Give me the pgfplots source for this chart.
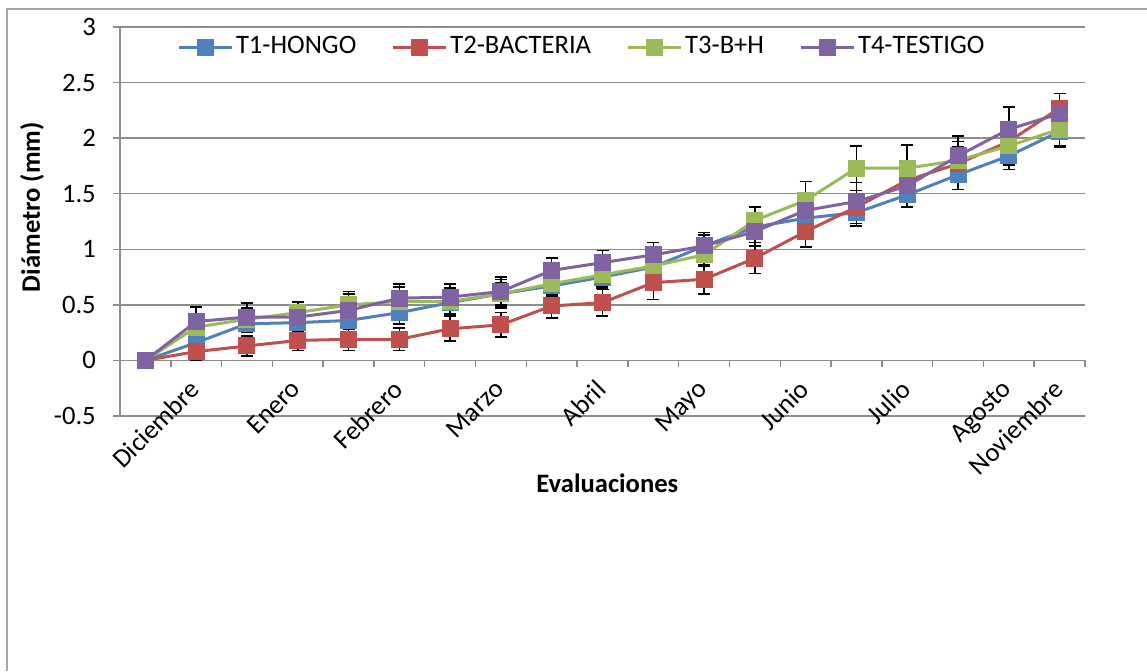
\documentclass[border=0pt]{standalone}
\usepackage{pgfplots}
\pgfplotsset{compat=1.18}
\usepackage{pgfplotstable}
\usepackage{fontspec}
\setmainfont{Carlito}
\definecolor{c1}{HTML}{4F81BD}
\definecolor{c2}{HTML}{C0504D}
\definecolor{c3}{HTML}{9BBB59}
\definecolor{c4}{HTML}{8064A2}
\definecolor{gridc}{HTML}{8C8C8C}
\definecolor{borderc}{HTML}{A6A6A6}

\pgfplotstableread{
x y e
1 0 0
2 0.16 0.05
3 0.33 0.08
4 0.34 0.08
5 0.36 0.08
6 0.43 0.10
7 0.52 0.10
8 0.60 0.10
9 0.67 0.10
10 0.75 0.10
11 0.84 0.10
12 1.03 0.10
13 1.20 0.10
14 1.28 0.10
15 1.33 0.12
16 1.49 0.11
17 1.67 0.13
18 1.84 0.12
19 2.06 0.14
}\tA
\pgfplotstableread{
x y e
1 0 0
2 0.08 0.08
3 0.13 0.09
4 0.18 0.09
5 0.19 0.10
6 0.19 0.10
7 0.285 0.11
8 0.32 0.11
9 0.49 0.11
10 0.52 0.12
11 0.70 0.15
12 0.73 0.13
13 0.92 0.14
14 1.16 0.14
15 1.38 0.15
16 1.62 0.12
17 1.77 0.15
18 1.97 0.15
19 2.27 0.13
}\tB
\pgfplotstableread{
x y e
1 0 0
2 0.30 0.08
3 0.37 0.10
4 0.43 0.10
5 0.50 0.12
6 0.53 0.13
7 0.53 0.12
8 0.60 0.13
9 0.69 0.10
10 0.77 0.10
11 0.85 0.10
12 0.95 0.10
13 1.26 0.12
14 1.44 0.17
15 1.73 0.20
16 1.73 0.21
17 1.80 0.17
18 1.93 0.17
19 2.08 0.15
}\tC
\pgfplotstableread{
x y e
1 0 0
2 0.35 0.13
3 0.39 0.125
4 0.39 0.13
5 0.45 0.15
6 0.56 0.13
7 0.57 0.12
8 0.62 0.13
9 0.81 0.11
10 0.88 0.11
11 0.95 0.11
12 1.03 0.12
13 1.16 0.13
14 1.35 0.15
15 1.43 0.17
16 1.57 0.15
17 1.84 0.18
18 2.08 0.20
19 2.22 0.12
}\tD

\pgfplotsset{
  ser/.style={#1, line width=1.5pt, mark=square*, mark size=4pt,
    mark options={solid, fill=#1, draw=#1, line width=0.5pt},
    error bars/.cd, y dir=both, y explicit,
    error bar style={black, line width=0.75pt},
    error mark options={black, rotate=90, mark size=3pt, line width=0.75pt}},
}

\begin{document}
\fontsize{13.3}{16}\selectfont
\begin{tikzpicture}
\useasboundingbox (0,0) rectangle (573.5pt,-335.5pt);
\draw[borderc, line width=0.75pt] (3.5pt,-335.5pt) -- (3.5pt,-4.5pt) -- (573.5pt,-4.5pt);
\begin{axis}[
  at={(60pt,-208pt)}, anchor=south west,
  scale only axis, width=482.5pt, height=194.5pt,
  xmin=0.5, xmax=19.5, ymin=-0.5, ymax=3,
  axis x line=middle, axis y line=left,
  axis line style={-, gridc, line width=0.75pt},
  every tick/.style={gridc, line width=0.75pt},
  major tick length=3.5pt,
  ytick={-0.5,0,0.5,1,1.5,2,2.5,3},
  yticklabels={-0.5,0,0.5,1,1.5,2,2.5,3},
  yticklabel style={xshift=-4pt},
  ytick align=outside,
  ymajorgrids, grid style={gridc, line width=0.75pt},
  xtick={0.5,1.5,...,19.5}, xticklabels={},
  xtick align=outside,
  extra x ticks={2,4,6,8,10,12,14,16,18,19},
  extra x tick labels={Diciembre,Enero,Febrero,Marzo,Abril,Mayo,Junio,Julio,Agosto,Noviembre},
  extra x tick style={major tick length=0pt, xticklabel style={anchor=north east, inner sep=1pt, xshift=-4pt, yshift=-7.3pt, rotate=45}},
  ylabel={\textbf{Diámetro (mm)}},
  ylabel style={at={(axis description cs:-0.0912,0.537)}, anchor=center, rotate=0},
  xlabel={\textbf{Evaluaciones}},
  xlabel style={at={(axis description cs:0.505,-0.172)}, anchor=center},
  legend columns=4,
  legend style={at={(axis description cs:0.479,0.9486)}, anchor=center, draw=none, fill=none,
    /tikz/every even column/.append style={column sep=16pt},
    nodes={inner sep=1.5pt}},
  legend image code/.code={\draw[mark repeat=2, mark phase=2] plot coordinates {(0pt,0pt) (13.25pt,0pt) (26.5pt,0pt)};},
]
\addplot[ser=c1] table[x=x, y=y, y error=e] {\tA};
\addlegendentry{T1-HONGO}
\addplot[ser=c2] table[x=x, y=y, y error=e] {\tB};
\addlegendentry{T2-BACTERIA}
\addplot[ser=c3] table[x=x, y=y, y error=e] {\tC};
\addlegendentry{T3-B+H}
\addplot[ser=c4] table[x=x, y=y, y error=e] {\tD};
\addlegendentry{T4-TESTIGO}
\end{axis}
\end{tikzpicture}
\end{document}
